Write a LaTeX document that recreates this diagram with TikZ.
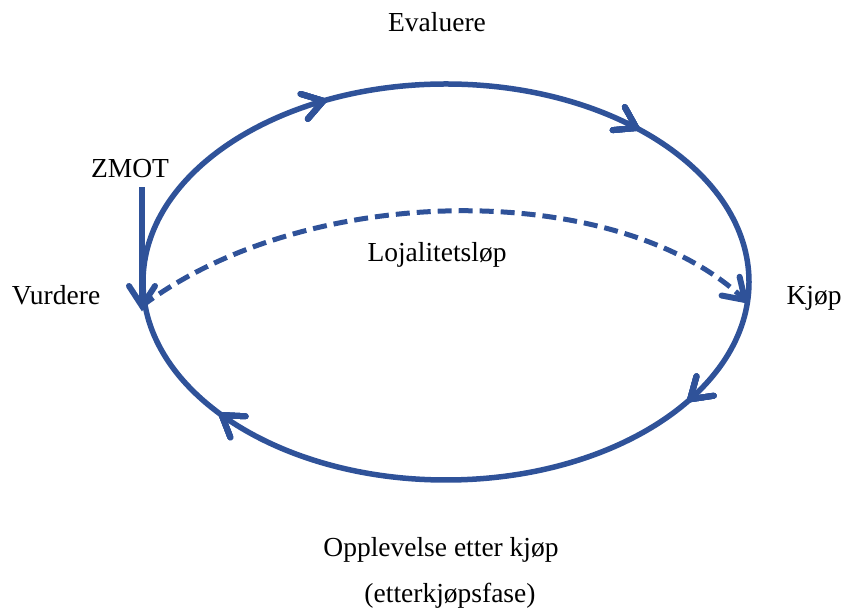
\documentclass[tikz,border=0pt]{standalone}
\usepackage{fontspec}
\setmainfont{Liberation Serif}
\usetikzlibrary{decorations.markings}
\definecolor{loopblue}{RGB}{47,82,153}
\tikzset{
    phase/.style={font=\fontsize{27.5}{32}\selectfont, anchor=base, inner sep=0pt},
    cycleline/.style={draw=loopblue, line width=5.5pt, line cap=round},
    headsat/.style={decoration={markings, mark=at position #1 with {\draw[loopblue, solid, line width=6pt, line cap=round] (-20pt,13pt) -- (0,0) -- (-20pt,-13pt);}}, postaction=decorate},
    loyalline/.style={draw=loopblue, line width=5pt, dash pattern=on 14pt off 7pt}
}
\begin{document}
\begin{tikzpicture}[x=1pt, y=1pt]
        \useasboundingbox (0,0) rectangle (842,612);
        \coordinate (west) at (143,330);
        \coordinate (vurd) at (142,306);
        \coordinate (kjp) at (745,312);
        \node[phase] (evaluere) at (437,580) {Evaluere};
        \node[phase] (vurdere) at (56,307) {Vurdere};
        \node[phase] (kjop) at (814,307) {Kjøp};
        \node[phase] (zmot) at (130,434) {ZMOT};
        \node[phase] (lojal) at (437,350) {Lojalitetsløp};
        \node[phase] (opplevelse) at (441,55) {Opplevelse etter kjøp};
        \node[phase] (etterfase) at (450,9) {(etterkjøpsfase)};
        \draw[cycleline, headsat=0.172, headsat=0.374, headsat=0.585, headsat=0.899] (west) arc[start angle=180, end angle=-180, x radius=303pt, y radius=198pt];
        \draw[loyalline, headsat=1] (vurd) .. controls (310,432) and (620,432) .. (kjp);
        \draw[draw=loopblue, line width=5.5pt, headsat=1] ([yshift=-9pt]zmot.south -| vurd) -- (vurd);
    \end{tikzpicture}
\end{document}
